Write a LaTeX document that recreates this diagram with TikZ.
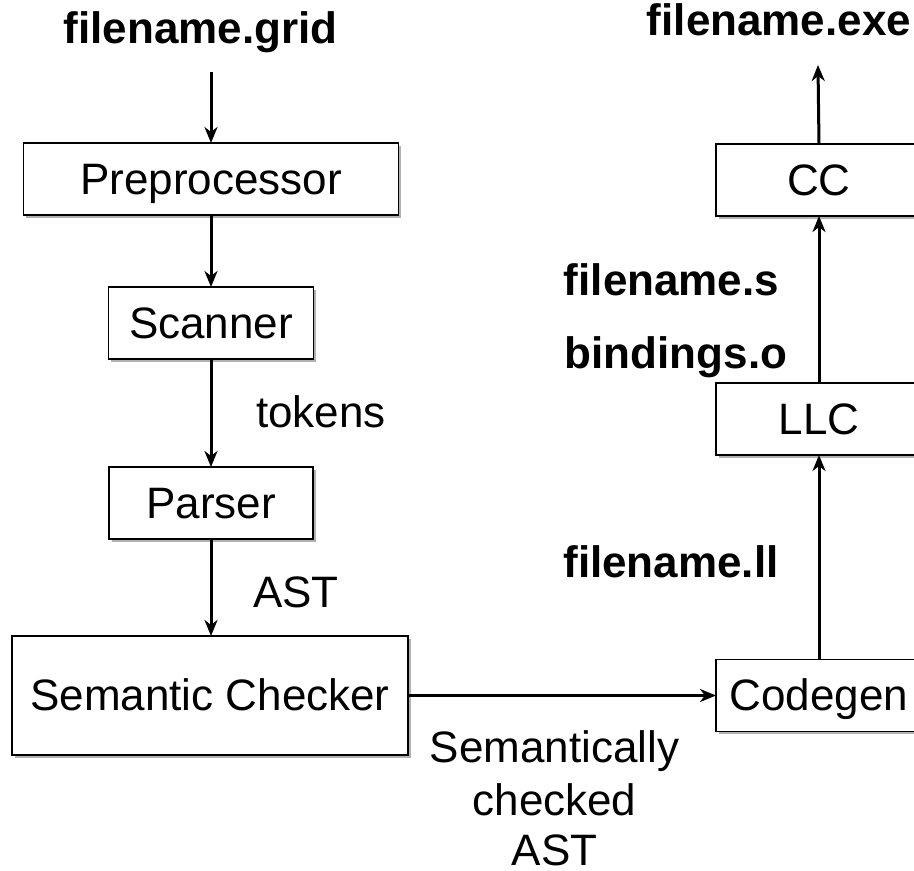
\documentclass[tikz,border=0pt]{standalone}
\usepackage{fontspec}
\setmainfont{Liberation Sans}
\usetikzlibrary{arrows.meta,shadows}
\begin{document}
\begin{tikzpicture}[x=1pt,y=-1pt,
  box/.style={draw=black, line width=1.4pt, fill=white, minimum height=72pt, inner sep=0pt, outer sep=0pt,
    font=\fontsize{44}{52}\selectfont, text height=39.8pt, text depth=9.3pt,
    drop shadow={shadow xshift=2.5pt, shadow yshift=-2.5pt, fill=black, opacity=0.3}},
  lbl/.style={font=\fontsize{44}{52}\selectfont, inner sep=0pt, anchor=base},
  blbl/.style={lbl, font=\fontsize{44}{52}\selectfont\bfseries},
  flow/.style={-{Stealth[length=16pt,width=13pt,inset=5pt]}, line width=3pt}
]
\useasboundingbox (0,0) rectangle (914,871);
% boxes
\node[box, minimum width=375pt] (pre) at (211,179) {Preprocessor};
\node[box, minimum width=205pt] (scan) at (211,323) {Scanner};
\node[box, minimum width=204pt] (pars) at (211,503) {Parser};
\node[box, minimum width=396pt, minimum height=119pt] (sem) at (210,695.5) {Semantic Checker};
\node[box, minimum width=206pt] (cg) at (819,695.5) {Codegen};
\node[box, minimum width=206pt] (llc) at (819,419) {LLC};
\node[box, minimum width=206pt] (cc) at (819,180) {CC};
% labels
\node[blbl] (fgrid) at (200.5,43) {filename.grid};
\coordinate (gridend) at (211,72);
\node[blbl] (fexe) at (779,35) {filename.exe};
\coordinate (exeend) at (818,65);
\node[blbl] (fs) at (671.5,295) {filename.s};
\node[blbl] (bo) at (676,368) {bindings.o};
\node[blbl] (fll) at (671,577) {filename.ll};
\node[lbl, anchor=base west] (tok) at (256,427) {tokens};
\node[lbl, anchor=base west] (ast) at (253,607) {AST};
\node[lbl] (sc1) at (554.5,762) {Semantically};
\node[lbl] (sc2) at (554.5,815) {checked};
\node[lbl] (sc3) at (554.5,865) {AST};
% connectors
\draw[flow] (gridend) -- (pre.north);
\draw[flow] (pre.south) -- (scan.north);
\draw[flow] (scan.south) -- (pars.north);
\draw[flow] (pars.south) -- (pars.south |- sem.north);
\draw[flow] (sem.east) -- (cg.west);
\draw[flow] (cg.north) -- (llc.south);
\draw[flow] (llc.north) -- (cc.south);
\draw[flow] (cc.north) -- (exeend);
\end{tikzpicture}
\end{document}
